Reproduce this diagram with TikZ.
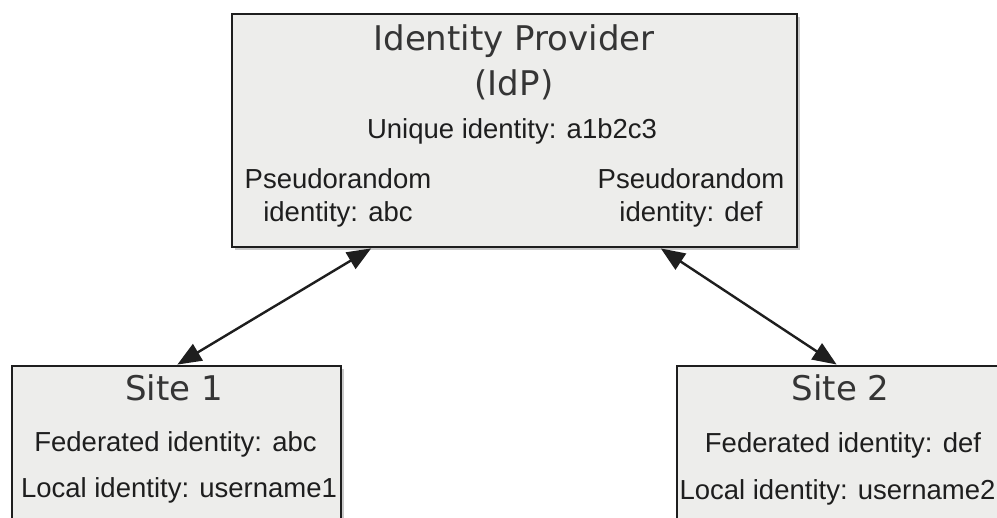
\documentclass[tikz,border=0pt]{standalone}
\usepackage{fontspec}
\setmainfont{Liberation Sans}
\newfontfamily\headfont{DejaVu Sans}
\usetikzlibrary{arrows.meta,shadows}
\definecolor{boxfill}{HTML}{EDEDEB}
\definecolor{ink}{HTML}{1E1E1E}
\tikzset{
  panel/.style={draw=ink, line width=1.8pt, fill=boxfill, rectangle, inner sep=0pt,
    drop shadow={shadow xshift=3pt, shadow yshift=-3pt, fill=black!35, opacity=0.6}},
  head/.style={text=ink!90, font=\headfont\fontsize{34}{40}\selectfont, inner sep=0pt, anchor=base},
  body/.style={text=ink, font=\fontsize{27.5}{33}\selectfont, inner sep=0pt, anchor=base, align=center},
  link/.style={ink, line width=2.4pt, {Triangle[length=24pt,width=19pt]}-{Triangle[length=24pt,width=19pt]}, shorten <=1pt, shorten >=1pt}
}
\begin{document}
\begin{tikzpicture}[x=1pt,y=-1pt]
\useasboundingbox (0,0) rectangle (997,518);
\fill[white] (0,0) rectangle (997,518);
\clip (0,0) rectangle (997,518);

% identity provider
\node[panel, minimum width=565pt, minimum height=233pt] (idp) at (514.5,130.5) {};
\node[head] (idpname) at (514,51) {Identity Provider};
\node[head] (idpabbr) at (514,96) {(IdP)};
\node[body] (uniq) at (512,139) {Unique identity: a1b2c3};
\node[body] (pseudoA) at (338,222) {Pseudorandom\\identity: abc};
\node[body] (pseudoB) at (691,222) {Pseudorandom\\identity: def};

% relying sites
\node[panel, minimum width=329pt, minimum height=190pt] (site1) at (176.5,461) {};
\node[head] (site1name) at (174,401) {Site 1};
\node[body] (fed1) at (175.5,452) {Federated identity: abc};
\node[body] (loc1) at (179,498) {Local identity: username1};

\node[panel, minimum width=321pt, minimum height=190pt] (site2) at (837.5,461) {};
\node[head] (site2name) at (840.5,401) {Site 2};
\node[body] (fed2) at (843,453) {Federated identity: def};
\node[body] (loc2) at (837.5,500) {Local identity: username2};

% links
\draw[link] ([xshift=-142.5pt]idp.south) -- (site1.north);
\draw[link] ([xshift=145.5pt]idp.south) -- (site2.north);
\end{tikzpicture}
\end{document}
